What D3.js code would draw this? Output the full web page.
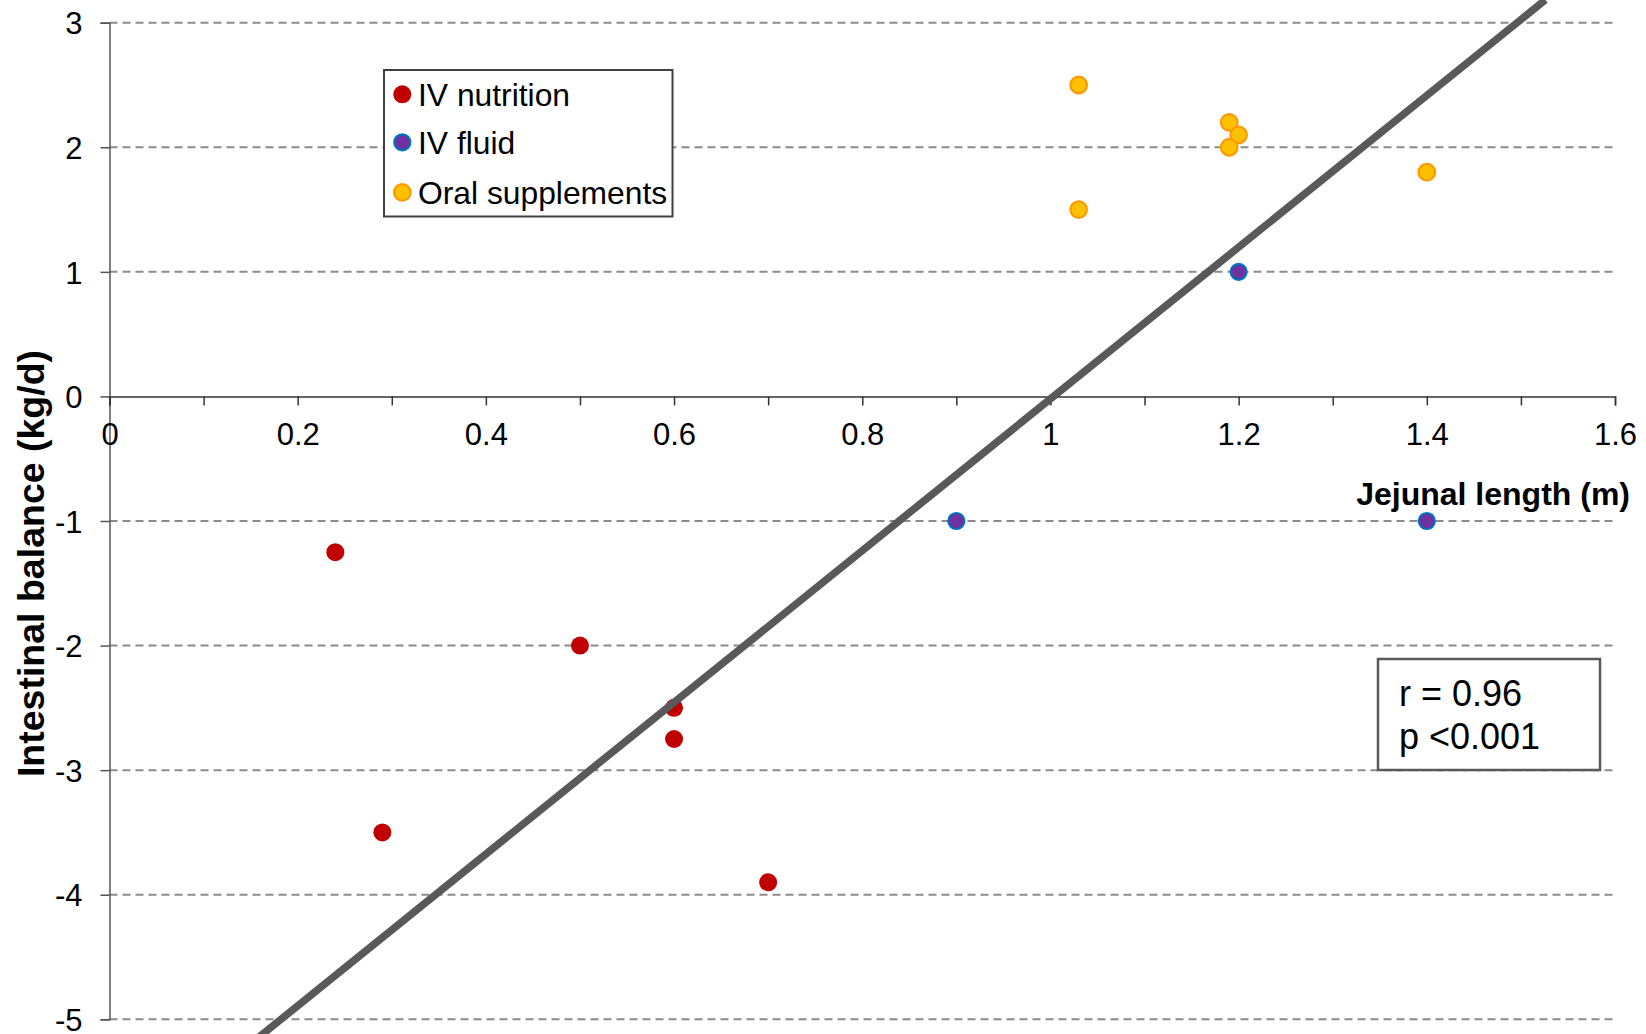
<!DOCTYPE html>
<html>
<head>
<meta charset="utf-8">
<script src="https://cdn.jsdelivr.net/npm/d3@7"></script>
<style>
  html, body { margin: 0; padding: 0; background: #fff; }
  svg { display: block; }
  text { font-family: "Liberation Sans", Arial, sans-serif; fill: #000; }
</style>
</head>
<body>
<script>
// ---- data ----
const seriesNames = ["IV nutrition", "IV fluid", "Oral supplements"];
const ivNutritionX = [0.24, 0.29, 0.5, 0.6, 0.6, 0.7];
const ivNutritionY = [-1.25, -3.5, -2, -2.5, -2.75, -3.9];
const ivFluidX = [0.9, 1.2, 1.4];
const ivFluidY = [-1, 1, -1];
const oralX = [1.03, 1.03, 1.19, 1.2, 1.19, 1.4];
const oralY = [2.5, 1.5, 2.2, 2.1, 2.0, 1.8];
const trendX = [0.15, 1.526];
const trendSlope = 6.09;
const trendIntercept = -6.11;
const xTicks = [0, 0.2, 0.4, 0.6, 0.8, 1, 1.2, 1.4, 1.6];
const xMinorTicks = [0, 0.1, 0.2, 0.3, 0.4, 0.5, 0.6, 0.7, 0.8, 0.9, 1, 1.1, 1.2, 1.3, 1.4, 1.5, 1.6];
const yTicks = [3, 2, 1, 0, -1, -2, -3, -4, -5];
const xTitle = "Jejunal length (m)";
const yTitle = "Intestinal balance (kg/d)";
const statLines = ["r = 0.96", "p <0.001"];

// ---- styles ----
const W = 1646, H = 1034;
const styles = [
  { fill: "#C00000", stroke: "#C00000", sw: 0, r: 9 },
  { fill: "#7030A0", stroke: "#0070C0", sw: 2.2, r: 8 },
  { fill: "#FFC000", stroke: "#FF9900", sw: 2.2, r: 8.3 }
];

const svg = d3.select("body").append("svg").attr("width", W).attr("height", H);
svg.append("rect").attr("width", W).attr("height", H).attr("fill", "#fff");

const x = d3.scaleLinear().domain([0, 1.6]).range([109.5, 1615]);
const y = d3.scaleLinear().domain([-5, 3]).range([1019.3, 22.7]);

// gridlines
svg.append("g").selectAll("line").data(yTicks.filter(d => d !== 0)).join("line")
  .attr("x1", x(0)).attr("x2", x(1.6))
  .attr("y1", d => y(d)).attr("y2", d => y(d))
  .attr("stroke", "#8c8c8c").attr("stroke-width", 2).attr("stroke-dasharray", "8,5");

// y axis
const yAxis = d3.axisLeft(y).tickValues(yTicks).tickSize(9).tickPadding(0).tickFormat(d3.format("d"));
const gy = svg.append("g").attr("transform", `translate(${x(0)},0)`).call(yAxis);
gy.select(".domain").attr("stroke", "#555").attr("stroke-width", 1.5);
gy.selectAll(".tick line").attr("stroke", "#555").attr("stroke-width", 1.5);
gy.selectAll(".tick text").attr("x", -27).attr("dy", "0.36em")
  .style("font-size", "31px").style("font-family", "'Liberation Sans', Arial, sans-serif").attr("fill", "#000")
  .text(d => d < 0 ? "-" + Math.abs(d) : d);

// x axis (at y = 0)
const xAxisMinor = d3.axisBottom(x).tickValues(xMinorTicks).tickSize(9).tickFormat("");
const gxm = svg.append("g").attr("transform", `translate(0,${y(0)})`).call(xAxisMinor);
gxm.select(".domain").attr("stroke", "#333").attr("stroke-width", 1.5);
gxm.selectAll(".tick line").attr("stroke", "#333").attr("stroke-width", 1.5);

const xAxis = d3.axisBottom(x).tickValues(xTicks).tickSize(0).tickPadding(0).tickFormat(d => d === 0 ? "0" : d3.format("")(d));
const gx = svg.append("g").attr("transform", `translate(0,${y(0)})`).call(xAxis);
gx.select(".domain").remove();
gx.selectAll(".tick text").attr("y", 49).attr("dy", 0)
  .style("font-size", "31px").style("font-family", "'Liberation Sans', Arial, sans-serif").attr("fill", "#000");

// axis titles
svg.append("text").attr("x", 1630).attr("y", 505).attr("text-anchor", "end")
  .style("font-size", "32px").style("font-weight", "bold").text(xTitle);
svg.append("text").attr("transform", `translate(44,${(350 + 777) / 2}) rotate(-90)`)
  .attr("text-anchor", "middle")
  .style("font-size", "37.5px").style("font-weight", "bold").text(yTitle);

// points
const series = [
  ivNutritionX.map((v, i) => ({ x: v, y: ivNutritionY[i] })),
  ivFluidX.map((v, i) => ({ x: v, y: ivFluidY[i] })),
  oralX.map((v, i) => ({ x: v, y: oralY[i] }))
];
series.forEach((pts, si) => {
  const s = styles[si];
  svg.append("g").selectAll("circle").data(pts).join("circle")
    .attr("cx", d => x(d.x)).attr("cy", d => y(d.y)).attr("r", s.r)
    .attr("fill", s.fill).attr("stroke", s.sw ? s.stroke : "none").attr("stroke-width", s.sw);
});

// trend line
const line = d3.line().x(d => x(d)).y(d => y(trendSlope * d + trendIntercept));
svg.append("path").datum(trendX).attr("d", line)
  .attr("fill", "none").attr("stroke", "#595959").attr("stroke-width", 7.5);

// legend
const lg = svg.append("g");
lg.append("rect").attr("x", 384).attr("y", 70).attr("width", 288.5).attr("height", 146.5)
  .attr("fill", "#fff").attr("stroke", "#404040").attr("stroke-width", 2);
const rowY = [94.3, 142.3, 192.3];
seriesNames.forEach((name, i) => {
  const s = styles[i];
  lg.append("circle").attr("cx", 402.3).attr("cy", rowY[i]).attr("r", s.r)
    .attr("fill", s.fill).attr("stroke", s.sw ? s.stroke : "none").attr("stroke-width", s.sw);
  lg.append("text").attr("x", 418).attr("y", rowY[i]).attr("dy", "0.36em")
    .style("font-size", "31.8px").text(name);
});

// stats box
const sg = svg.append("g");
sg.append("rect").attr("x", 1378).attr("y", 659).attr("width", 222).attr("height", 111)
  .attr("fill", "#fff").attr("stroke", "#595959").attr("stroke-width", 2.5);
sg.append("text").attr("x", 1399).attr("y", 706).style("font-size", "36px").text(statLines[0]);
sg.append("text").attr("x", 1399).attr("y", 749).style("font-size", "36px").text(statLines[1]);
</script>
</body>
</html>
